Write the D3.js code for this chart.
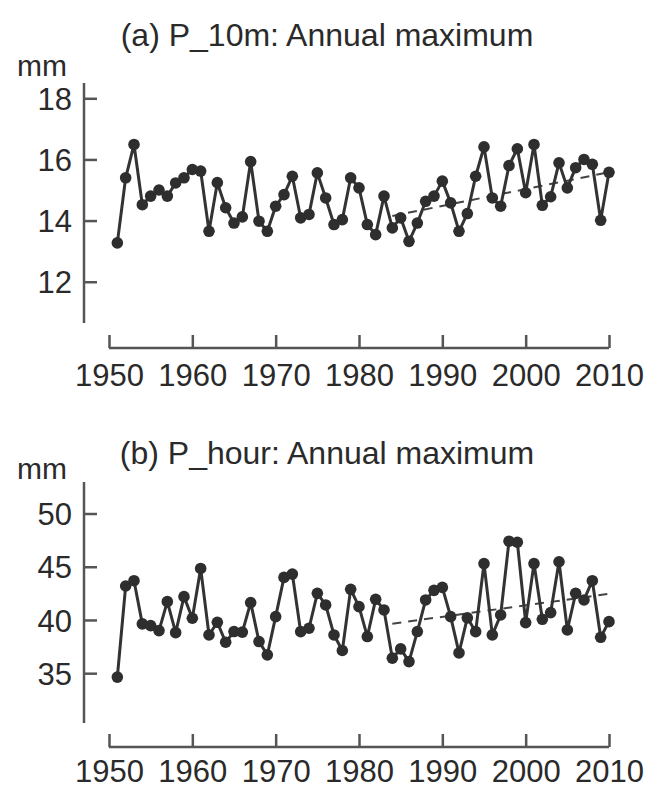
<!DOCTYPE html>
<html>
<head>
<meta charset="utf-8">
<script src="https://cdn.jsdelivr.net/npm/d3@7"></script>
<style>
  html, body { margin: 0; padding: 0; background: #fff; }
  svg { display: block; }
  text { font-family: "Liberation Sans", Arial, Helvetica, sans-serif; fill: #2a2a2a; }
</style>
</head>
<body>
<svg id="chart" width="646" height="790"></svg>
<script>
const years = d3.range(1951, 2011);

const p10m = [
  13.27, 15.40, 16.49, 14.52, 14.80, 15.00, 14.80, 15.23, 15.40, 15.67,
  15.62, 13.65, 15.24, 14.42, 13.92, 14.12, 15.93, 13.98, 13.65, 14.47,
  14.85, 15.45, 14.09, 14.20, 15.56, 14.74, 13.87, 14.03, 15.40, 15.07,
  13.87, 13.54, 14.80, 13.76, 14.09, 13.32, 13.92, 14.63, 14.80, 15.29,
  14.58, 13.65, 14.23, 15.45, 16.41, 14.74, 14.47, 15.80, 16.35, 14.91,
  16.49, 14.50, 14.78, 15.89, 15.07, 15.73, 16.00, 15.84, 14.01, 15.58
];

const phour = [
  34.63, 43.19, 43.69, 39.63, 39.47, 39.00, 41.72, 38.81, 42.19, 40.16,
  44.84, 38.59, 39.78, 37.91, 38.91, 38.86, 41.63, 37.97, 36.72, 40.31,
  44.00, 44.31, 38.90, 39.22, 42.50, 41.41, 38.59, 37.13, 42.88, 41.25,
  38.44, 41.94, 40.94, 36.41, 37.28, 36.09, 38.91, 41.88, 42.78, 43.06,
  40.31, 36.90, 40.20, 38.90, 45.30, 38.60, 40.47, 47.40, 47.30, 39.75,
  45.30, 40.06, 40.69, 45.47, 39.06, 42.50, 41.88, 43.69, 38.37, 39.84
];

// trend lines (dashed), start/end years and values
const trendYears = [1984, 2010];
const trendA = [14.15, 15.58];
const trendB = [39.65, 42.45];

const xTicks = [1950, 1960, 1970, 1980, 1990, 2000, 2010];
const yTicksA = [12, 14, 16, 18];
const yTicksB = [35, 40, 45, 50];

const titleA = "(a) P_10m: Annual maximum";
const titleB = "(b) P_hour: Annual maximum";
const unit = "mm";

const svg = d3.select("#chart");
const axisColor = "#555";
const lineColor = "#333";
const FS = 31;

function panel(cfg) {
  const g = svg.append("g");
  const x = d3.scaleLinear().domain([1950, 2010]).range([109, 609]);
  const y = d3.scaleLinear().domain(cfg.yDomain).range([cfg.yBottom, cfg.yTop]);

  // title
  g.append("text")
    .attr("x", 327).attr("y", cfg.titleY)
    .attr("text-anchor", "middle")
    .style("font-size", "32px")
    .text(cfg.title);

  // unit
  g.append("text")
    .attr("x", 17).attr("y", cfg.unitY)
    .style("font-size", "30px")
    .text(unit);

  // y axis
  const yAxis = d3.axisRight(y).tickValues(cfg.yTicks).tickSize(13).tickFormat(d3.format("d"));
  const ya = g.append("g").attr("transform", "translate(84,0)").call(yAxis);
  ya.select(".domain").remove();
  ya.append("line").attr("x1", 0).attr("x2", 0).attr("y1", cfg.yTop).attr("y2", cfg.yBottom)
    .attr("stroke", axisColor).attr("stroke-width", 2.5);
  ya.selectAll(".tick line").attr("stroke", axisColor).attr("stroke-width", 2.5);
  ya.selectAll(".tick text")
    .attr("x", -12).attr("dy", "0.36em")
    .attr("text-anchor", "end")
    .style("font-size", FS + "px")
    .attr("fill", "#2a2a2a");

  // x axis
  const xAxis = d3.axisTop(x).tickValues(xTicks).tickSize(13).tickFormat(d3.format("d"));
  const xa = g.append("g").attr("transform", `translate(0,${cfg.xAxisY})`).call(xAxis);
  xa.select(".domain").remove();
  xa.append("line").attr("x1", x(1950)).attr("x2", x(2010)).attr("y1", 0).attr("y2", 0)
    .attr("stroke", axisColor).attr("stroke-width", 2.5);
  xa.selectAll(".tick line").attr("stroke", axisColor).attr("stroke-width", 2.5);
  xa.selectAll(".tick text")
    .attr("y", cfg.yearLabelDy).attr("dy", 0)
    .style("font-size", FS + "px")
    .attr("fill", "#2a2a2a");

  // trend dashed
  const trend = trendYears.map((yr, i) => [yr, cfg.trend[i]]);
  g.append("path")
    .datum(trend)
    .attr("d", d3.line().x(d => x(d[0])).y(d => y(d[1])))
    .attr("fill", "none").attr("stroke", "#444")
    .attr("stroke-width", 2).attr("stroke-dasharray", "9,7");

  // series line
  const data = years.map((yr, i) => [yr, cfg.values[i]]);
  g.append("path")
    .datum(data)
    .attr("d", d3.line().x(d => x(d[0])).y(d => y(d[1])))
    .attr("fill", "none").attr("stroke", lineColor)
    .attr("stroke-width", 3).attr("stroke-linejoin", "round");

  g.selectAll("circle.pt")
    .data(data).join("circle")
    .attr("class", "pt")
    .attr("cx", d => x(d[0])).attr("cy", d => y(d[1]))
    .attr("r", 5.8).attr("fill", "#2e2e2e");
}

panel({
  title: titleA, titleY: 46, unitY: 76,
  yDomain: [10.65, 18.5], yTop: 83, yBottom: 323,
  yTicks: yTicksA, xAxisY: 348, yearLabelDy: 38,
  values: p10m, trend: trendA
});

panel({
  title: titleB, titleY: 464, unitY: 479,
  yDomain: [30.32, 52.96], yTop: 482, yBottom: 723,
  yTicks: yTicksB, xAxisY: 747, yearLabelDy: 35,
  values: phour, trend: trendB
});
</script>
</body>
</html>
